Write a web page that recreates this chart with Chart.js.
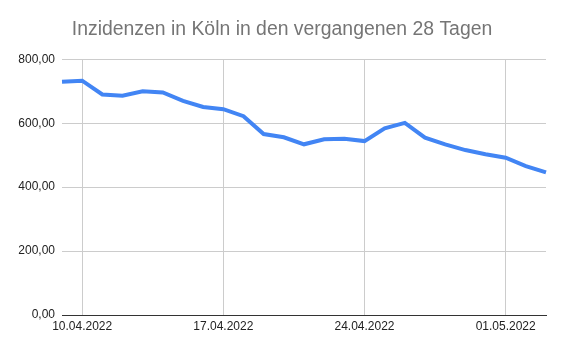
<!DOCTYPE html>
<html>
<head>
<meta charset="utf-8">
<script src="https://cdn.jsdelivr.net/npm/chart.js@4"></script>
<style>
    html, body { margin: 0; padding: 0; background: #fff; }
    #box { width: 564px; height: 352px; }
</style>
</head>
<body>
<div id="box"><canvas id="grafico"></canvas></div>
<script>
const tage = [
    '09.04.2022', '10.04.2022', '11.04.2022', '12.04.2022', '13.04.2022',
    '14.04.2022', '15.04.2022', '16.04.2022', '17.04.2022', '18.04.2022',
    '19.04.2022', '20.04.2022', '21.04.2022', '22.04.2022', '23.04.2022',
    '24.04.2022', '25.04.2022', '26.04.2022', '27.04.2022', '28.04.2022',
    '29.04.2022', '30.04.2022', '01.05.2022', '02.05.2022', '03.05.2022'
];
const inzidenzen = [
    730, 733, 690, 686, 700,
    696, 670, 651, 644, 622,
    566, 556, 534, 550, 551,
    544, 584, 601, 555, 534,
    516, 503, 492, 466, 446
];
const xBeschriftung = ['10.04.2022', '17.04.2022', '24.04.2022', '01.05.2022'];
const yTicks = [0, 200, 400, 600, 800];

const schrift = "'Liberation Sans', Arial, sans-serif";

new Chart(document.getElementById('grafico'), {
    type: 'line',
    data: {
        labels: tage,
        datasets: [{
            label: 'Inzidenz',
            data: inzidenzen,
            borderColor: '#4285F4',
            backgroundColor: '#4285F4',
            borderWidth: 4,
            pointRadius: 0,
            tension: 0,
            fill: false
        }]
    },
    options: {
        responsive: true,
        maintainAspectRatio: false,
        animation: false,
        layout: { padding: 0 },
        plugins: {
            legend: { display: false },
            tooltip: { enabled: false },
            title: {
                display: true,
                text: 'Inzidenzen in Köln in den vergangenen 28 Tagen',
                color: '#757575',
                font: { family: schrift, size: 19.4, weight: 'normal' },
                padding: { top: 18, bottom: 18 }
            }
        },
        scales: {
            x: {
                offset: false,
                afterBuildTicks: function (scale) {
                    scale.ticks = scale.ticks.filter(t => xBeschriftung.includes(tage[t.value]));
                },
                afterFit: function (scale) {
                    scale.height = 37;
                },
                ticks: {
                    autoSkip: false,
                    maxRotation: 0,
                    color: '#222',
                    padding: 4,
                    font: { family: schrift, size: 12 }
                },
                grid: {
                    color: '#cccccc',
                    drawTicks: false
                },
                border: { display: true, color: '#333333', width: 1 }
            },
            y: {
                min: 0,
                max: 800,
                afterBuildTicks: function (scale) {
                    scale.ticks = yTicks.map(v => ({ value: v }));
                },
                afterFit: function (scale) {
                    scale.width = 62;
                },
                ticks: {
                    color: '#222',
                    padding: 7,
                    font: { family: schrift, size: 12 },
                    callback: function (v) {
                        return v.toFixed(2).replace('.', ',');
                    }
                },
                grid: {
                    color: '#cccccc',
                    drawTicks: false
                },
                border: { display: false }
            },
            // leere rechte Achse, damit der Plotbereich bei 546 endet
            rechts: {
                position: 'right',
                min: 0,
                max: 800,
                afterFit: function (scale) {
                    scale.width = 18;
                },
                ticks: { display: false },
                grid: { display: false, drawTicks: false },
                border: { display: false }
            }
        }
    }
});
</script>
</body>
</html>
